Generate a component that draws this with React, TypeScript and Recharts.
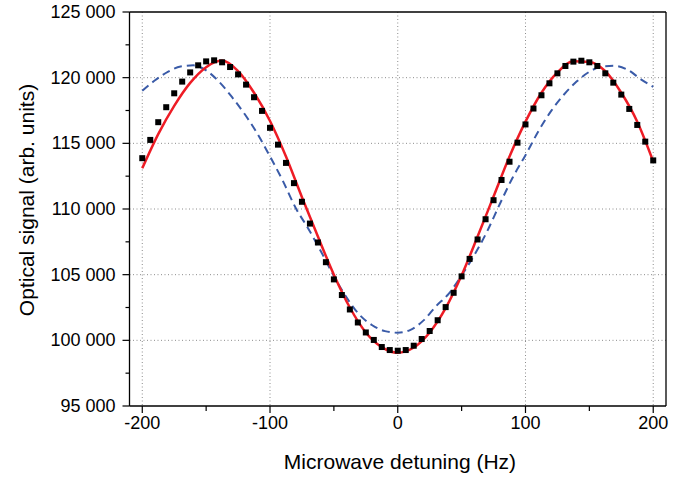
import React from "react";
import {
  ComposedChart,
  Line,
  Scatter,
  XAxis,
  YAxis,
  CartesianGrid,
  ReferenceLine,
} from "recharts";

// measured points, every 6.25 Hz
const detuning = [
  -200, -193.75, -187.5, -181.25, -175, -168.75, -162.5, -156.25, -150, -143.75,
  -137.5, -131.25, -125, -118.75, -112.5, -106.25, -100, -93.75, -87.5, -81.25,
  -75, -68.75, -62.5, -56.25, -50, -43.75, -37.5, -31.25, -25, -18.75, -12.5,
  -6.25, 0, 6.25, 12.5, 18.75, 25, 31.25, 37.5, 43.75, 50, 56.25, 62.5, 68.75,
  75, 81.25, 87.5, 93.75, 100, 106.25, 112.5, 118.75, 125, 131.25, 137.5,
  143.75, 150, 156.25, 162.5, 168.75, 175, 181.25, 187.5, 193.75, 200,
];
const signal = [
  113870, 115260, 116610, 117750, 118810, 119700, 120400, 120940, 121240, 121320,
  121170, 120810, 120250, 119470, 118510, 117470, 116180, 114900, 113510, 111970,
  110550, 108890, 107450, 105950, 104640, 103450, 102350, 101360, 100600, 100030,
  99490, 99260, 99210, 99260, 99590, 100100, 100710, 101530, 102530, 103620,
  104870, 106200, 107680, 109220, 110670, 112210, 113600, 115050, 116440, 117650,
  118660, 119570, 120330, 120890, 121220, 121290, 121170, 120890, 120330, 119620,
  118710, 117620, 116400, 115130, 113700,
];

// red fit
const fitDetuning = [
  -200, -187.5, -175, -162.5, -150, -137.5, -125, -112.5, -100, -87.5, -75,
  -62.5, -50, -37.5, -25, -12.5, 0, 12.5, 25, 37.5, 50, 62.5, 75, 87.5, 100,
  112.5, 125, 137.5, 150, 162.5, 175, 187.5, 200,
];
const fitSignal = [
  113100, 115700, 117850, 119600, 120800, 121300, 120500, 118850, 116700, 114000,
  110900, 107900, 105000, 102500, 100600, 99480, 99050, 99450, 100600, 102450,
  104950, 107900, 110950, 114000, 116650, 118850, 120400, 121250, 121200, 120500,
  118850, 116650, 113620,
];

// blue dashed model
const modelDetuning = [
  -200, -190, -180, -170, -160, -150, -140, -130, -120, -110, -100, -90, -80,
  -70, -60, -50, -40, -30, -20, -10, 0, 10, 20, 30, 40, 50, 60, 70, 80, 90, 100,
  110, 120, 130, 140, 150, 160, 170, 180, 190, 200,
];
const modelSignal = [
  119000, 119800, 120450, 120850, 120940, 120550, 119700, 118550, 117250, 115750,
  114000, 112150, 110100, 108500, 106750, 104900, 103250, 101950, 101150, 100700,
  100580, 100800, 101500, 102600, 103560, 104950, 106500, 108300, 110400, 112400,
  114100, 115900, 117450, 118700, 119700, 120450, 120850, 120900, 120600, 119900,
  119300,
];

const xTicks = [-200, -150, -100, -50, 0, 50, 100, 150, 200];
const xLabels = [-200, -100, 0, 100, 200];
const yTicks = [
  95000, 97500, 100000, 102500, 105000, 107500, 110000, 112500, 115000, 117500,
  120000, 122500, 125000,
];
const yLabels = [95000, 100000, 105000, 110000, 115000, 120000, 125000];
const yGrid = [100000, 105000, 110000, 115000, 120000];

const points = detuning.map((x, i) => ({ x, y: signal[i] }));
const fit = fitDetuning.map((x, i) => ({ x, y: fitSignal[i] }));
const model = modelDetuning.map((x, i) => ({ x, y: modelSignal[i] }));

const font = "'Liberation Sans', Arial, sans-serif";

const fmtY = (v: number) =>
  `${Math.floor(v / 1000)} ${String(v % 1000).padStart(3, "0")}`;

const XTick = ({ x, y, payload }: any) => {
  const major = xLabels.includes(payload.value);
  return (
    <g>
      <line x1={x} x2={x} y1={y} y2={y + (major ? 7 : 5)} stroke="#000" strokeWidth={1.2} />
      {major && (
        <text x={x} y={y + 23} textAnchor="middle" fontSize={18} fontFamily={font} fill="#000">
          {payload.value}
        </text>
      )}
    </g>
  );
};

const YTick = ({ x, y, payload }: any) => {
  const major = yLabels.includes(payload.value);
  return (
    <g>
      <line x1={x - (major ? 7 : 4)} x2={x} y1={y} y2={y} stroke="#000" strokeWidth={1.2} />
      {major && (
        <text
          x={x - 14}
          y={y}
          textAnchor="end"
          dominantBaseline="central"
          fontSize={18}
          fontFamily={font}
          fill="#000"
        >
          {fmtY(payload.value)}
        </text>
      )}
    </g>
  );
};

const Square = ({ cx, cy }: any) => (
  <rect x={cx - 3} y={cy - 3} width={6} height={6} fill="#000" />
);

export default function App() {
  return (
    <div style={{ position: "absolute", left: 0, top: 0 }}>
      <ComposedChart
        width={690}
        height={478}
        margin={{ top: 12, right: 24, bottom: 0, left: 0 }}
      >
        <CartesianGrid
          horizontalValues={yGrid}
          verticalValues={xLabels}
          stroke="#8c8c8c"
          strokeDasharray="1 2.5"
        />
        <XAxis
          dataKey="x"
          type="number"
          domain={[-210, 210]}
          ticks={xTicks}
          interval={0}
          height={72}
          tickSize={0}
          tickMargin={0}
          tick={<XTick />}
          tickLine={false}
          axisLine={{ stroke: "#000", strokeWidth: 1.3 }}
          allowDuplicatedCategory={false}
          label={{
            content: () => (
              <text x={400} y={469} textAnchor="middle" fontSize={21} fontFamily={font} fill="#000">
                Microwave detuning (Hz)
              </text>
            ),
          }}
        />
        <YAxis
          type="number"
          domain={[95000, 125000]}
          ticks={yTicks}
          interval={0}
          width={129.5}
          tickSize={0}
          tickMargin={0}
          tick={<YTick />}
          tickLine={false}
          axisLine={{ stroke: "#000", strokeWidth: 1.3 }}
          label={{
            content: () => (
              <text
                x={26}
                y={200}
                transform="rotate(-90 26 200)"
                textAnchor="middle"
                dominantBaseline="central"
                fontSize={21}
                fontFamily={font}
                fill="#000"
              >
                Optical signal (arb. units)
              </text>
            ),
          }}
        />
        <ReferenceLine y={125000} stroke="#000" strokeWidth={1.3} />
        <ReferenceLine x={210} stroke="#000" strokeWidth={1.3} />
        <Scatter data={points} dataKey="y" shape={<Square />} isAnimationActive={false} />
        <Line
          data={model}
          dataKey="y"
          type="monotone"
          stroke="#3a5ba8"
          strokeWidth={2}
          strokeDasharray="8 5"
          dot={false}
          activeDot={false}
          isAnimationActive={false}
        />
        <Line
          data={fit}
          dataKey="y"
          type="monotone"
          stroke="#ee1c25"
          strokeWidth={2.5}
          dot={false}
          activeDot={false}
          isAnimationActive={false}
        />
      </ComposedChart>
    </div>
  );
}
